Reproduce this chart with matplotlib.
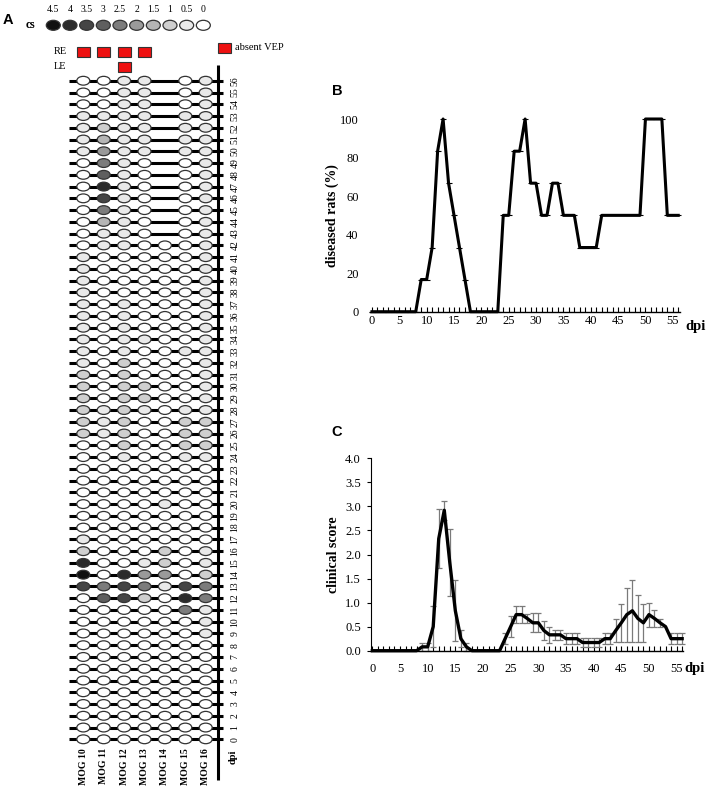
import numpy as np
import matplotlib
matplotlib.use("Agg")
import matplotlib.pyplot as plt
from matplotlib.patches import Ellipse, Rectangle

plt.rcParams['font.family'] = ['Liberation Serif', 'DejaVu Serif']

days = np.arange(57)
nan = np.nan

# ---- panel A: clinical score per rat, day 0..56 (nan = rat gone) ----
rat_names = ['MOG 10', 'MOG 11', 'MOG 12', 'MOG 13', 'MOG 14', 'MOG 15', 'MOG 16']
mog10 = [0, 0, 0, 0, 0, 0, 0, 0, 0, 0,
         0, 0, 0, 3.5, 4.5, 4, 1, 0.5, 0, 0,
         0, 0, 0, 0, 0, 0, 1, 1, 1, 1,
         1, 1, 0.5, 0.5, 0.5, 0.5, 0.5, 0.5, 0.5, 0.5,
         0.5, 0.5, 0, 0, 0, 0, 0, 0, 0, 0,
         0.5, 0.5, 0.5, 0.5, 0, 0, 0]
mog11 = [0, 0, 0, 0, 0, 0, 0, 0, 0, 0,
         0, 0, 3, 2.5, 0, 0, 0, 0, 0, 0,
         0, 0, 0, 0, 0, 0, 0.5, 0.5, 0.5, 0,
         0, 0, 0, 0, 0, 0, 0, 0, 0, 0,
         0, 0, 0.5, 0.5, 1.5, 2.5, 3.5, 4, 3, 2.5,
         2, 1.5, 1, 0.5, 0, 0, 0]
mog12 = [0, 0, 0, 0, 0, 0, 0, 0, 0, 0,
         0, 0, 3.5, 3.5, 4, 0, 0, 0, 0, 0,
         0, 0, 0, 0, 0.5, 1, 1, 1, 1, 1,
         1, 1, 1, 0.5, 0.5, 0.5, 0.5, 0.5, 0, 0,
         0, 0, 0.5, 0.5, 0.5, 0.5, 0.5, 0.5, 0.5, 0.5,
         0.5, 0.5, 0.5, 0.5, 0.5, 0.5, 0.5]
mog13 = [0, 0, 0, 0, 0, 0, 0, 0, 0, 0,
         0, 0, 1, 2.5, 2, 0.5, 0, 0, 0, 0,
         0, 0, 0, 0, 0, 0, 0, 0, 0.5, 1,
         1, 0, 0, 0, 0.5, 0, 0, 0, 0, 0,
         0, 0, 0, 0, 0, 0, 0, 0, 0, 0,
         0.5, 0.5, 0.5, 0.5, 0.5, 0.5, 0.5]
mog14 = [0, 0, 0, 0, 0, 0, 0, 0, 0, 0,
         0, 0, 0, 0.5, 2, 1, 1, 0, 0, 0,
         0.5, 0, 0, 0, 0, 0, 0, 0, 0, 0,
         0, 0, 0, 0, 0, 0, 0, 0, 0, 0,
         0, 0, 0, nan, nan, nan, nan, nan, nan, nan,
         nan, nan, nan, nan, nan, nan, nan]
mog15 = [0, 0, 0, 0, 0, 0, 0, 0, 0, 0,
         0, 2.5, 4, 3.5, 0, 0, 0, 0, 0, 0,
         0, 0, 0, 0, 0.5, 1, 1, 1, 0.5, 0,
         0, 0, 0, 0.5, 0, 0, 0, 0, 0, 0,
         0, 0, 0, 0, 0, 0, 0, 0, 0, 0,
         0.5, 0.5, 0.5, 0.5, 0, 0, 0]
mog16 = [0, 0, 0, 0, 0, 0, 0, 0, 0, 0.5,
         0.5, 0.5, 2.5, 2.5, 1, 0.5, 0.5, 0, 0, 0,
         0, 0, 0, 0, 0.5, 1, 1, 1, 0.5, 0.5,
         0.5, 0.5, 0.5, 0.5, 0.5, 0.5, 0.5, 0.5, 0.5, 0.5,
         0.5, 0.5, 0.5, 0.5, 0.5, 0.5, 0.5, 0.5, 0.5, 0.5,
         0.5, 0.5, 0.5, 0.5, 0.5, 0.5, 0.5]
rats = [mog10, mog11, mog12, mog13, mog14, mog15, mog16]

cs_levels = [4.5, 4, 3.5, 3, 2.5, 2, 1.5, 1, 0.5, 0]
cs_colors = ['#111111', '#2b2b2b', '#454545', '#5f5f5f', '#7c7c7c',
             '#9a9a9a', '#b5b5b5', '#cfcfcf', '#e9e9e9', '#ffffff']
re_absent_vep = ['MOG 10', 'MOG 11', 'MOG 12', 'MOG 13']
le_absent_vep = ['MOG 12']

# ---- panel B: diseased rats (%) ----
diseased = [0, 0, 0, 0, 0, 0, 0, 0, 0, 16.7,
            16.7, 33.3, 83.3, 100, 66.7, 50, 33.3, 16.7, 0, 0,
            0, 0, 0, 0, 50, 50, 83.3, 83.3, 100, 66.7,
            66.7, 50, 50, 66.7, 66.7, 50, 50, 50, 33.3, 33.3,
            33.3, 33.3, 50, 50, 50, 50, 50, 50, 50, 50,
            100, 100, 100, 100, 50, 50, 50]

# ---- panel C: mean clinical score +- sem ----
score = [0, 0, 0, 0, 0, 0, 0, 0, 0, 0.08,
         0.08, 0.5, 2.33, 2.92, 1.83, 0.83, 0.25, 0.08, 0, 0,
         0, 0, 0, 0, 0.25, 0.5, 0.75, 0.75, 0.67, 0.58,
         0.58, 0.42, 0.33, 0.33, 0.33, 0.25, 0.25, 0.25, 0.17, 0.17,
         0.17, 0.17, 0.25, 0.25, 0.42, 0.58, 0.75, 0.83, 0.67, 0.58,
         0.75, 0.67, 0.58, 0.5, 0.25, 0.25, 0.25]
sem = [0, 0, 0, 0, 0, 0, 0, 0, 0, 0.08,
       0.08, 0.42, 0.62, 0.2, 0.7, 0.63, 0.17, 0.08, 0, 0,
       0, 0, 0, 0, 0.11, 0.22, 0.17, 0.17, 0.1, 0.2,
       0.2, 0.2, 0.17, 0.1, 0.1, 0.11, 0.11, 0.11, 0.1, 0.1,
       0.1, 0.1, 0.11, 0.11, 0.24, 0.4, 0.56, 0.64, 0.48, 0.4,
       0.25, 0.17, 0.08, 0, 0.11, 0.11, 0.11]

W, H = 709, 787
fig = plt.figure(figsize=(W / 100, H / 100), dpi=100)

# panel A lives in a frame where x = rat index and y = dpi
COL0, COLW = 83.3, 20.4     # px centre of MOG 10, px between rats
ROW0, ROWH = 739.3, 11.76   # px centre of dpi 0, px between days
A_RIGHT = 262
axA = fig.add_axes([0, 0, A_RIGHT / W, 1])
axA.set_xlim(-COL0 / COLW, (A_RIGHT - COL0) / COLW)
axA.set_ylim((ROW0 - H) / ROWH, ROW0 / ROWH)
axA.axis('off')


def cx(px):
    return (px - COL0) / COLW


def ry(py):
    return (ROW0 - py) / ROWH


shade = dict(zip(cs_levels, cs_colors))
ell_w, ell_h = 13 / COLW, 8.8 / ROWH

for d in days:
    axA.plot([cx(69), cx(223)], [d, d], color='k', lw=2.2,
             solid_capstyle='butt', zorder=1)
    axA.text(cx(235), d, str(d), rotation=90, ha='center', va='center',
             fontsize=7)
axA.plot([cx(218), cx(218)], [ry(780), ry(65)], color='k', lw=2.2,
         solid_capstyle='butt', zorder=1)

for j, vals in enumerate(rats):
    for d, v in zip(days, vals):
        if np.isnan(v):
            continue
        axA.add_patch(Ellipse((j, d), ell_w, ell_h, facecolor=shade[v],
                              edgecolor='#333333', lw=0.9, zorder=2))
    axA.text(j, ry(748), rat_names[j], rotation=90, ha='center', va='top',
             fontsize=7, fontweight='bold')
axA.text(cx(233), ry(757), 'dpi', rotation=90, ha='center', va='center',
         fontsize=7.5, fontweight='bold')

# cs scale
for i, (lev, col) in enumerate(zip(cs_levels, cs_colors)):
    x = cx(53.3 + i * 16.67)
    axA.add_patch(Ellipse((x, ry(25.3)), 14 / COLW, 10 / ROWH, facecolor=col,
                          edgecolor='#333333', lw=0.9))
    axA.text(x, ry(9), f'{lev:g}', ha='center', va='center', fontsize=7)
axA.text(cx(30), ry(25.5), 'cs', ha='center', va='center', fontsize=8.5,
         fontweight='bold')

# absent VEP marks
sq_w, sq_h = 13 / COLW, 10 / ROWH
for lab, yy, names in [('RE', ry(52), re_absent_vep), ('LE', ry(66.7), le_absent_vep)]:
    axA.text(cx(54), yy, lab, ha='left', va='center', fontsize=7.5)
    for n in names:
        j = rat_names.index(n)
        axA.add_patch(Rectangle((j - sq_w / 2, yy - sq_h / 2), sq_w, sq_h,
                                facecolor='#ee1111', edgecolor='#333333', lw=0.8))
axA.add_patch(Rectangle((cx(224) - sq_w / 2, ry(47.5) - sq_h / 2), sq_w, sq_h,
                        facecolor='#ee1111', edgecolor='#333333', lw=0.8))
axA.text(cx(235), ry(47.5), 'absent VEP', ha='left', va='center', fontsize=7.5)

fig.text(8 / W, 1 - 20 / H, 'A', family='Liberation Sans', fontweight='bold',
         fontsize=10.5, ha='center', va='center')
fig.text(337 / W, 1 - 91 / H, 'B', family='Liberation Sans', fontweight='bold',
         fontsize=10.5, ha='center', va='center')
fig.text(337 / W, 1 - 432 / H, 'C', family='Liberation Sans', fontweight='bold',
         fontsize=10.5, ha='center', va='center')

# ---- panel B ----
axB = fig.add_axes([369.8 / W, 1 - 311.7 / H, 310.1 / W, 192.7 / H])
axB.plot(days, diseased, color='k', lw=2.2, marker='_', ms=4, mew=0.8,
         clip_on=False, zorder=3)
axB.set_xlim(-0.4, 56.3)
axB.set_ylim(0, 100)
for s in ['top', 'right', 'left']:
    axB.spines[s].set_visible(False)
axB.spines['bottom'].set_linewidth(1.0)
axB.set_xticks(np.arange(0, 56, 5))
axB.set_xticks(days, minor=True)
axB.set_yticks(np.arange(0, 101, 20))
axB.tick_params(axis='x', which='both', direction='in', length=3.5, width=0.8,
                labelsize=9, pad=2.5)
axB.tick_params(axis='y', length=0, labelsize=9, pad=8)
axB.set_ylabel('diseased rats (%)', fontsize=10, fontweight='bold')
axB.yaxis.set_label_coords(-0.1, 0.5)
axB.text(1.052, -0.079, 'dpi', transform=axB.transAxes, ha='center',
         va='center', fontsize=10.5, fontweight='bold')

# ---- panel C ----
axC = fig.add_axes([370.7 / W, 1 - 650.7 / H, 312 / W, 192.4 / H])
score_a = np.array(score)
sem_a = np.array(sem)
has_err = sem_a > 0
axC.errorbar(days[has_err], score_a[has_err], yerr=sem_a[has_err], fmt='none',
             ecolor='#7a7a7a', elinewidth=0.9, capsize=2.5, capthick=0.9,
             zorder=2, clip_on=False)
axC.plot(days, score_a, color='k', lw=2.4, zorder=3, clip_on=False)
axC.set_xlim(-0.3, 56.1)
axC.set_ylim(0, 4)
for s in ['top', 'right']:
    axC.spines[s].set_visible(False)
axC.spines['bottom'].set_linewidth(1.0)
axC.spines['left'].set_linewidth(0.8)
axC.set_xticks(np.arange(0, 56, 5))
axC.set_xticks(days, minor=True)
axC.set_yticks(np.arange(0, 4.01, 0.5))
axC.set_yticklabels([f'{v:.1f}' for v in np.arange(0, 4.01, 0.5)])
axC.tick_params(axis='x', which='both', direction='in', length=3.5, width=0.8,
                labelsize=9, pad=9)
axC.tick_params(axis='y', direction='out', length=3, width=0.8,
                labelsize=9, pad=4)
axC.set_ylabel('clinical score', fontsize=10, fontweight='bold')
axC.yaxis.set_label_coords(-0.1, 0.5)
axC.text(1.039, -0.095, 'dpi', transform=axC.transAxes, ha='center',
         va='center', fontsize=10.5, fontweight='bold')

fig.savefig('out.png', dpi=100)
